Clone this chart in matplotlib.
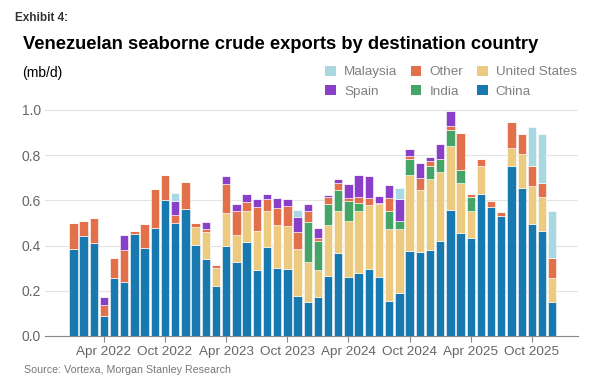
import numpy as np
import matplotlib
matplotlib.use("Agg")
import matplotlib.pyplot as plt
from matplotlib.patches import Patch

plt.rcParams["font.family"] = ["Liberation Sans", "DejaVu Sans"]

# monthly, Jan 2022 .. Dec 2025 (mb/d)
months = [f"{m} {y}" for y in range(2022, 2026)
          for m in ["Jan", "Feb", "Mar", "Apr", "May", "Jun",
                    "Jul", "Aug", "Sep", "Oct", "Nov", "Dec"]]

china = [0.385, 0.444, 0.413, 0.086, 0.255, 0.240, 0.451, 0.391, 0.476, 0.600, 0.500, 0.562,
         0.403, 0.342, 0.223, 0.398, 0.326, 0.417, 0.292, 0.395, 0.299, 0.296, 0.178, 0.149,
         0.171, 0.265, 0.366, 0.260, 0.277, 0.295, 0.260, 0.156, 0.192, 0.378, 0.372, 0.382,
         0.419, 0.559, 0.454, 0.435, 0.628, 0.569, 0.531, 0.754, 0.656, 0.494, 0.463, 0.149]
us = [0, 0, 0, 0, 0, 0, 0, 0, 0, 0, 0, 0,
      0.078, 0.120, 0.079, 0.145, 0.122, 0.135, 0.173, 0.160, 0.191, 0.192, 0.208, 0.180,
      0.121, 0.225, 0.189, 0.250, 0.275, 0.283, 0.324, 0.316, 0.283, 0.333, 0.274, 0.313,
      0.307, 0.282, 0.222, 0.118, 0.124, 0, 0, 0.079, 0.149, 0.168, 0.151, 0.109]
india = [0, 0, 0, 0, 0, 0, 0, 0, 0, 0, 0, 0,
         0, 0, 0, 0, 0, 0, 0, 0, 0, 0, 0, 0.175,
         0.130, 0.096, 0.091, 0.089, 0.035, 0, 0, 0.081, 0.032, 0.071, 0, 0.059,
         0.059, 0.071, 0.060, 0.062, 0, 0, 0, 0, 0, 0, 0, 0]
other = [0.114, 0.063, 0.111, 0.053, 0.092, 0.142, 0.012, 0.103, 0.173, 0.111, 0.034, 0.119,
         0.020, 0.013, 0.014, 0.130, 0.104, 0.042, 0.104, 0.051, 0.075, 0.087, 0.073, 0.051,
         0.013, 0.031, 0.030, 0.012, 0.028, 0.033, 0.006, 0.056, 0, 0.016, 0.052, 0.022,
         0, 0.017, 0.164, 0.012, 0.031, 0.030, 0.018, 0.115, 0.089, 0.090, 0.062, 0.087]
spain = [0, 0, 0, 0.032, 0, 0.066, 0, 0, 0, 0, 0.065, 0,
         0, 0.029, 0, 0.033, 0.031, 0.033, 0.036, 0.022, 0.046, 0.031, 0.066, 0.028,
         0.043, 0.007, 0.017, 0.062, 0.097, 0.098, 0.029, 0.058, 0.098, 0.028, 0.066, 0.015,
         0.065, 0.068, 0, 0, 0, 0, 0, 0, 0, 0, 0, 0]
malaysia = [0, 0, 0, 0, 0, 0, 0, 0, 0, 0, 0.032, 0,
            0, 0, 0, 0, 0, 0, 0, 0, 0, 0, 0.033, 0,
            0, 0, 0, 0, 0, 0, 0, 0, 0.048, 0, 0, 0,
            0, 0, 0, 0, 0, 0, 0, 0, 0, 0.173, 0.218, 0.208]

tick_labels = ["Apr 2022", "Oct 2022", "Apr 2023", "Oct 2023",
               "Apr 2024", "Oct 2024", "Apr 2025", "Oct 2025"]

series = [("China", china, "#1879b0"),
          ("United States", us, "#ecca80"),
          ("India", india, "#45a566"),
          ("Other", other, "#e2704a"),
          ("Spain", spain, "#8a3fc8"),
          ("Malaysia", malaysia, "#a9d8e3")]

fig = plt.figure(figsize=(5.95, 3.87), dpi=100)
ax = fig.add_axes([0.076, 0.132, 0.895, 0.613])

x = np.arange(len(months))
bottom = np.zeros(len(months))
for name, vals, col in series:
    v = np.array(vals)
    ax.bar(x, v, bottom=bottom, width=0.82, color=col, edgecolor="white",
           linewidth=0.4, zorder=2)
    bottom += v

ax.set_xlim(-2.76, 49.5)
ax.set_ylim(0, 1.05)
ax.set_yticks(np.arange(0, 1.01, 0.2))
ax.set_yticklabels([f"{t:.1f}" for t in np.arange(0, 1.01, 0.2)])
ax.set_xticks([months.index(t) for t in tick_labels])
ax.set_xticklabels(tick_labels)
ax.tick_params(axis="x", colors="#888888", labelcolor="#666666", labelsize=9.7,
               length=4, width=0.8, pad=3)
ax.tick_params(axis="y", length=0, labelcolor="#666666", labelsize=10, pad=3)
ax.grid(axis="y", color="#e3e3e3", lw=0.8, zorder=0)
for s in ["top", "right", "left"]:
    ax.spines[s].set_visible(False)
ax.spines["bottom"].set_color("#888888")
ax.spines["bottom"].set_linewidth(0.8)

fig.text(0.025, 0.968, "Exhibit 4:", fontsize=8.5, fontweight="bold",
         color="#333333", ha="left", va="top")
fig.text(0.038, 0.885, "Venezuelan seaborne crude exports by destination country",
         fontsize=13.2, fontweight="bold", color="black", ha="left", va="center")
fig.text(0.038, 0.812, "(mb/d)", fontsize=10, color="black", ha="left", va="center")

order = ["Malaysia", "Spain", "Other", "India", "United States", "China"]
cols = {n: c for n, _, c in series}
handles = [Patch(facecolor=cols[n], edgecolor="none", label=n) for n in order]
fig.legend(handles=handles, ncol=3, loc="upper right", bbox_to_anchor=(0.985, 0.855),
           frameon=False, fontsize=9.7, labelcolor="#808080", handlelength=0.8,
           handleheight=0.8, handletextpad=0.6, columnspacing=1.0, labelspacing=0.5,
           borderpad=0.2)

fig.text(0.04, 0.044, "Source: Vortexa, Morgan Stanley Research", fontsize=7.7,
         color="#777777", ha="left", va="center")

fig.savefig("out.png", dpi=100, facecolor="white")
